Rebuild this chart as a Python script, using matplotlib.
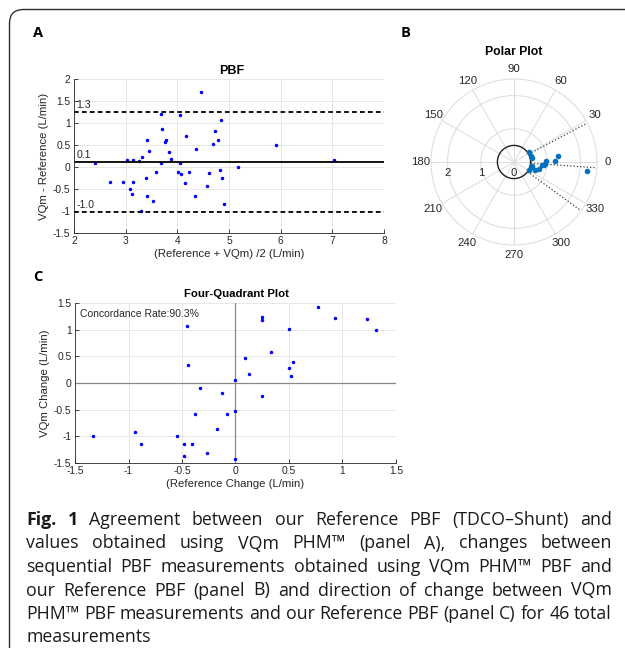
import numpy as np
import matplotlib
matplotlib.use('Agg')
import matplotlib.pyplot as plt
from matplotlib.patches import FancyBboxPatch
from matplotlib.transforms import offset_copy

# Panel A: Bland-Altman, mean of the two methods vs difference (L/min)
ba_mean = [2.41, 2.69, 2.95, 3.02, 3.08, 3.13, 3.15, 3.15, 3.26, 3.31, 3.30, 3.39,
           3.41, 3.42, 3.46, 3.52, 3.59, 3.69, 3.69, 3.70, 3.76, 3.78, 3.83, 3.88,
           4.01, 4.05, 4.05, 4.07, 4.14, 4.17, 4.23, 4.34, 4.37, 4.45, 4.57, 4.61,
           4.69, 4.72, 4.79, 4.83, 4.84, 4.86, 4.90, 5.18, 5.90, 7.04]
ba_diff = [0.10, -0.35, -0.33, 0.16, -0.49, -0.62, -0.33, 0.16, 0.13, 0.23, -0.99, -0.25,
           -0.65, 0.62, 0.37, -0.78, -0.12, 0.09, 1.21, 0.86, 0.57, 0.61, 0.35, 0.19,
           -0.12, 0.10, 1.18, -0.15, -0.37, 0.70, -0.12, -0.67, 0.40, 1.71, -0.43, -0.14,
           0.53, 0.81, 0.61, -0.07, 1.06, -0.25, -0.83, 0.01, 0.50, 0.16]
bias = 0.12
loa_upper = 1.26
loa_lower = -1.02

# Panel B: polar plot of changes (degrees, L/min)
polar_theta = [33, 19, 12, 8, 1, 1, -5, -7, -16, -22, -18, -27, -7, -12, -3]
polar_r = [0.54, 0.53, 0.55, 1.34, 1.25, 0.96, 0.90, 0.86, 0.79, 0.68, 0.53, 0.51, 2.21, 0.56, 0.94]
exclusion_r = 0.5
angular_bias = -4
angular_limits = [28, -36]
r_ticks = [0, 1, 2]

# Panel C: four-quadrant plot of changes (L/min)
ref_change = [-1.33, -0.94, -0.88, -0.55, -0.48, -0.48, -0.45, -0.44, -0.41, -0.38, -0.33,
              -0.27, -0.17, -0.13, -0.08, 0.00, 0.00, 0.00, 0.09, 0.13, 0.25, 0.25, 0.25,
              0.33, 0.50, 0.50, 0.52, 0.54, 0.77, 0.93, 1.23, 1.31]
vqm_change = [-0.99, -0.92, -1.14, -0.99, -1.14, -1.36, 1.06, 0.33, -1.14, -0.59, -0.09,
              -1.32, -0.87, -0.19, -0.59, 0.05, -0.53, -1.42, 0.46, 0.16, 1.23, 1.18, -0.24,
              0.58, 1.01, 0.28, 0.13, 0.39, 1.43, 1.21, 1.20, 0.99]
concordance = 90.3

caption_lines = [
    [("Fig.", "bold"), ("1", "bold")] + [(w, "normal") for w in
        "Agreement between our Reference PBF (TDCO\u2013Shunt) and".split()],
    [(w, "normal") for w in "values obtained using VQm PHM\u2122 (panel A), changes between".split()],
    [(w, "normal") for w in "sequential PBF measurements obtained using VQm PHM\u2122 PBF and".split()],
    [(w, "normal") for w in "our Reference PBF (panel B) and direction of change between VQm".split()],
    [(w, "normal") for w in "PHM\u2122 PBF measurements and our Reference PBF (panel C) for 46 total".split()],
    [(w, "normal") for w in "measurements".split()],
]

W, H = 625, 648
plt.rcParams['font.family'] = ['Liberation Sans', 'DejaVu Sans']
DARK = '#262626'
GRID = '#e3e3e3'
CAP_FONT = ['Open Sans', 'DejaVu Sans']

fig = plt.figure(figsize=(W / 100, H / 100), dpi=100)


def box(x0, y0, x1, y1):
    # pixel box (top-left origin) -> figure fraction rect
    return [x0 / W, 1 - y1 / H, (x1 - x0) / W, (y1 - y0) / H]


def style(ax):
    for s in ('top', 'right'):
        ax.spines[s].set_visible(False)
    for s in ('left', 'bottom'):
        ax.spines[s].set_color(DARK)
        ax.spines[s].set_linewidth(0.6)
    ax.tick_params(direction='in', length=3, width=0.6, colors=DARK, labelsize=7.4, pad=2.5)
    ax.grid(True, color=GRID, lw=0.6)
    ax.set_axisbelow(True)


# rounded frame around the figure
frame = FancyBboxPatch((9.5, -40), 680, H - 9.5 + 40, boxstyle="round,pad=0,rounding_size=14",
                       transform=None, fill=False, ec='#303030', lw=1.0)
fig.patches.append(frame)

# ---- Panel A
axA = fig.add_axes(box(74, 79, 384, 233))
style(axA)
axA.plot(ba_mean, ba_diff, '.', color='blue', ms=3)
axA.axhline(bias, color='k', lw=1.3)
for v in (loa_upper, loa_lower):
    axA.axhline(v, color='k', lw=1.3, ls=(0, (2.6, 1.8)))
for v in (loa_upper, bias, loa_lower):
    axA.text(2.05, v + 0.04, '%.1f' % v, fontsize=7.6, color=DARK, ha='left', va='bottom')
axA.set_xlim(2, 8)
axA.set_ylim(-1.5, 2)
axA.set_xticks(range(2, 9))
axA.set_yticks(np.arange(-1.5, 2.01, 0.5))
axA.set_yticklabels(['-1.5', '-1', '-0.5', '0', '0.5', '1', '1.5', '2'])
axA.set_xlabel('(Reference + VQm) /2 (L/min)', fontsize=8.2, color=DARK, labelpad=2)
axA.set_ylabel('VQm - Reference (L/min)', fontsize=8.2, color=DARK, labelpad=3)
fig.text(232 / W, 1 - 71 / H, 'PBF', fontsize=9, fontweight='bold', ha='center', va='center')

# ---- Panel B
axB = fig.add_axes(box(431, 79, 597, 245), projection='polar')
axB.set_ylim(0, 2.5)
axB.set_rticks(r_ticks)
axB.set_yticklabels([])
axB.set_thetagrids(range(0, 360, 30), [str(a) for a in range(0, 360, 30)])
axB.tick_params(axis='x', labelsize=8.2, colors=DARK, pad=-3)
axB.grid(True, color='#dcdcdc', lw=0.7)
axB.spines['polar'].set_color('#dcdcdc')
axB.spines['polar'].set_linewidth(0.7)
lab_tr = offset_copy(axB.transData, fig=fig, x=0, y=-6, units='dots')
for r in r_ticks:
    axB.text(np.pi, r, str(r), fontsize=8.2, color=DARK, ha='center', va='top', transform=lab_tr)
t = np.linspace(0, 2 * np.pi, 300)
axB.plot(t, np.full_like(t, exclusion_r), color='#202020', lw=1.0)
for a in [angular_bias] + angular_limits:
    axB.plot([np.deg2rad(a)] * 2, [exclusion_r, 2.5], ls=':', color='#404040', lw=0.9)
axB.plot(np.deg2rad(polar_theta), polar_r, 'o', ms=3.0, color='#0072BD', mec='#0072BD')
fig.text(514 / W, 1 - 52 / H, 'Polar Plot', fontsize=8.8, fontweight='bold', ha='center', va='center')

# ---- Panel C
axC = fig.add_axes(box(75, 303, 396, 463))
style(axC)
axC.axhline(0, color='#8a8a8a', lw=0.9)
axC.axvline(0, color='#8a8a8a', lw=0.9)
axC.plot(ref_change, vqm_change, '.', color='blue', ms=3)
axC.set_xlim(-1.5, 1.5)
axC.set_ylim(-1.5, 1.5)
ticks = np.arange(-1.5, 1.51, 0.5)
tick_labels = ['-1.5', '-1', '-0.5', '0', '0.5', '1', '1.5']
axC.set_xticks(ticks)
axC.set_xticklabels(tick_labels)
axC.set_yticks(ticks)
axC.set_yticklabels(tick_labels)
axC.text(-1.45, 1.3, 'Concordance Rate:%.1f%%' % concordance, fontsize=7.5, color=DARK,
         ha='left', va='center')
axC.set_xlabel('(Reference Change (L/min)', fontsize=8.2, color=DARK, labelpad=2)
axC.set_ylabel('VQm Change (L/min)', fontsize=8.2, color=DARK, labelpad=3)
fig.text(236 / W, 1 - 294 / H, 'Four-Quadrant Plot', fontsize=8.2, fontweight='bold',
         ha='center', va='center')

# panel letters
for letter, (px, py) in zip('ABC', [(38, 33), (406, 33), (38, 277)]):
    fig.text(px / W, 1 - py / H, letter, fontsize=10.5, fontweight='bold', family=CAP_FONT,
             ha='center', va='center')

# ---- justified caption
fig.canvas.draw()
renderer = fig.canvas.get_renderer()
left_px, right_px = 26, 612
baselines = [525, 548.5, 572, 595.5, 619, 642.5]


def measure(s, weight, size):
    tx = fig.text(0, 0, s, fontsize=size, fontweight=weight, family=CAP_FONT)
    w = tx.get_window_extent(renderer).width
    tx.remove()
    return w


# size the caption so the tightest line just fills the column
probe = ' '.join(w for w, _ in caption_lines[4])
cap_size = 10 * (right_px - left_px) * 0.995 / measure(probe, 'normal', 10)

space_w = measure('a b', 'normal', cap_size) - measure('ab', 'normal', cap_size)
for i, (words, base) in enumerate(zip(caption_lines, baselines)):
    widths = [measure(w, wt, cap_size) for w, wt in words]
    if i < len(caption_lines) - 1 and len(words) > 1:
        gap = (right_px - left_px - sum(widths)) / (len(words) - 1)
    else:
        gap = space_w
    x = left_px
    for (w, wt), wd in zip(words, widths):
        fig.text(x / W, 1 - base / H, w, fontsize=cap_size, fontweight=wt, family=CAP_FONT,
                 color='#1a1a1a', ha='left', va='baseline')
        x += wd + gap

fig.savefig('out.png', dpi=100)
